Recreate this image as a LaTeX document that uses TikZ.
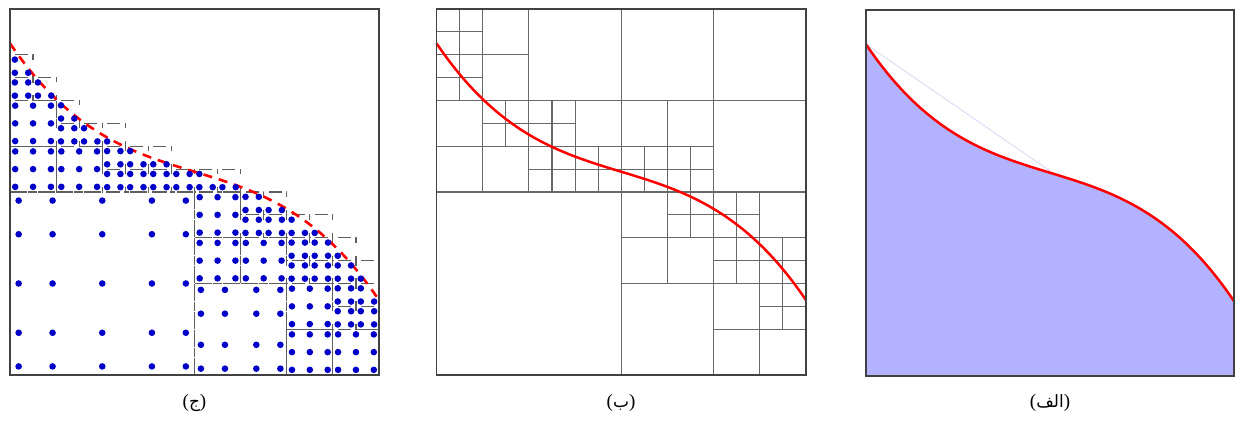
\documentclass[tikz,border=0pt]{standalone}
\usepackage{fontspec}
\setmainfont{Liberation Serif}
\newfontfamily\arabicfont[Script=Arabic]{DejaVu Sans}
\TeXXeTstate=1
\definecolor{framec}{RGB}{65,65,65}
\definecolor{gridc}{RGB}{105,105,105}
\definecolor{cellc}{RGB}{95,95,95}
\definecolor{curvec}{RGB}{255,0,0}
\definecolor{fillc}{RGB}{178,178,255}
\definecolor{chordc}{RGB}{222,222,245}
\definecolor{dotc}{RGB}{0,0,200}
\newcount\ptcount
\def\gaussII{0.2113,0.7887}
\def\gaussIII{0.1127,0.5,0.8873}
\def\gaussIV{0.0694,0.3300,0.6700,0.9306}
\def\gaussV{0.0469,0.2308,0.5,0.7692,0.9531}
\def\celllist{0/0/1,1/0/1,0/1/1,1/1/1,2/0/2,0/2/1,1/2/1,0/3/1,1/3/1,2/2/2,4/0/4,0/4/2,2/4/1,3/4/1,2/5/1,3/5/1,0/6/2,2/6/2,4/4/1,5/4/1,4/5/1,5/5/1,6/4/2,4/6/1,5/6/1,4/7/1,5/7/1,6/6/1,7/6/1,6/7/1,7/7/1,8/0/4,12/0/4,12/4/4,8/4/2,10/4/2,8/6/1,9/6/1,8/7/1,9/7/1,10/6/1,11/6/1,10/7/1,11/7/1,0/8/8,8/8/2,10/8/1,11/8/1,10/9/1,11/9/1,8/10/2,10/10/2,12/8/1,13/8/1,12/9/1,13/9/1,14/8/2,12/10/1,13/10/1,12/11/1,13/11/1,14/10/1,15/10/1,14/11/1,15/11/1,8/12/4,12/12/2,14/12/1,15/12/1,14/13/1,15/13/1,12/14/2,14/14/2}
\def\curvey#1{16*(0.449+0.307*((#1)/16-0.5)+1.579*((#1)/16-0.5)*((#1)/16-0.5)*((#1)/16-0.5))-0.07}
% #1 x0, #2 y0, #3 size, #4 gauss list, #5 mode (0 outline, 1 dots)
\newcommand\gcell[5]{%
  \global\ptcount=0
  \foreach \ga in #4 {%
    \foreach \gb in #4 {%
      \pgfmathsetmacro\px{#1+\ga*#3}%
      \pgfmathsetmacro\py{#2+\gb*#3}%
      \pgfmathsetmacro\cyv{\curvey{\px}}%
      \ifdim\py pt>\cyv pt
        \ifnum#5=1 \fill[dotc] (\px,\py) circle[radius=3.3pt];\fi
        \global\advance\ptcount by 1
      \fi
    }%
  }%
  \ifnum#5=0 \ifnum\ptcount>0 \draw[cellline] (#1,#2) rectangle ++(#3,#3);\fi\fi
}
\newcommand\allcells[1]{%
  \foreach \qx/\qy/\qs in \celllist {%
    \ifcase\qs\or \let\gl\gaussII \or \let\gl\gaussIII \or\or \let\gl\gaussIV \or\or\or\or \let\gl\gaussV \fi
    \gcell{\qx}{\qy}{\qs}{\gl}{#1}%
  }%
}
\tikzset{
  frameline/.style={draw=framec, line width=1.7pt},
  gridline/.style={draw=gridc, line width=1.1pt},
  cellline/.style={draw=cellc, line width=1.2pt, dash pattern=on 5pt off 13pt on 5pt},
  curveline/.style={draw=curvec, line width=2.5pt, line join=round},
  curvedash/.style={draw=curvec, line width=2.6pt, dash pattern=on 9pt off 7pt},
  caption/.style={font=\fontsize{19}{22}\selectfont, inner sep=0pt}
}
\begin{document}
\begin{tikzpicture}[x=1pt,y=-1pt]
\useasboundingbox (0,0) rectangle (1235,423);
\fill[white] (0,0) rectangle (1235,423);

% ---------- panel (ج) ----------
\begin{scope}[shift={(10,9)}, x=23.0625pt, y=-22.875pt]
  \allcells{0}
  \draw[curvedash] plot[domain=0:16, samples=80] (\x,{\curvey{\x}});
  \allcells{1}
  \draw[frameline] (0,0) rectangle (16,16);
\end{scope}

% ---------- panel (ب) ----------
\begin{scope}[shift={(436.5,9)}, x=23.094pt, y=-22.875pt]
  \foreach \qx/\qy/\qs in \celllist {\draw[gridline] (\qx,\qy) rectangle ++(\qs,\qs);}
  \draw[curveline] plot[domain=0:16, samples=80] (\x,{\curvey{\x}});
  \draw[frameline] (0,0) rectangle (16,16);
\end{scope}

% ---------- panel (الف) ----------
\begin{scope}[shift={(866,10)}, x=23pt, y=-22.875pt]
  \fill[fillc] (0,16) -- plot[domain=0:16, samples=80] (\x,{\curvey{\x}}) -- (16,16) -- cycle;
  \coordinate (chA) at (0,{\curvey{0}});
  \coordinate (chB) at (8.2,{\curvey{8.2}});
  \draw[chordc, line width=1pt] (chA) -- (chB);
  \draw[curveline] plot[domain=0:16, samples=80] (\x,{\curvey{\x}});
  \draw[frameline] (0,0) rectangle (16,16);
\end{scope}

\node[caption] (capC) at (194.5,403) {({\arabicfont\fontsize{17}{20}\selectfont\beginR ج\endR})};
\node[caption] (capB) at (621,403) {({\arabicfont\fontsize{17}{20}\selectfont\beginR ب\endR})};
\node[caption] (capA) at (1050,403) {({\arabicfont\fontsize{17}{20}\selectfont\beginR الف\endR})};
\end{tikzpicture}
\end{document}
